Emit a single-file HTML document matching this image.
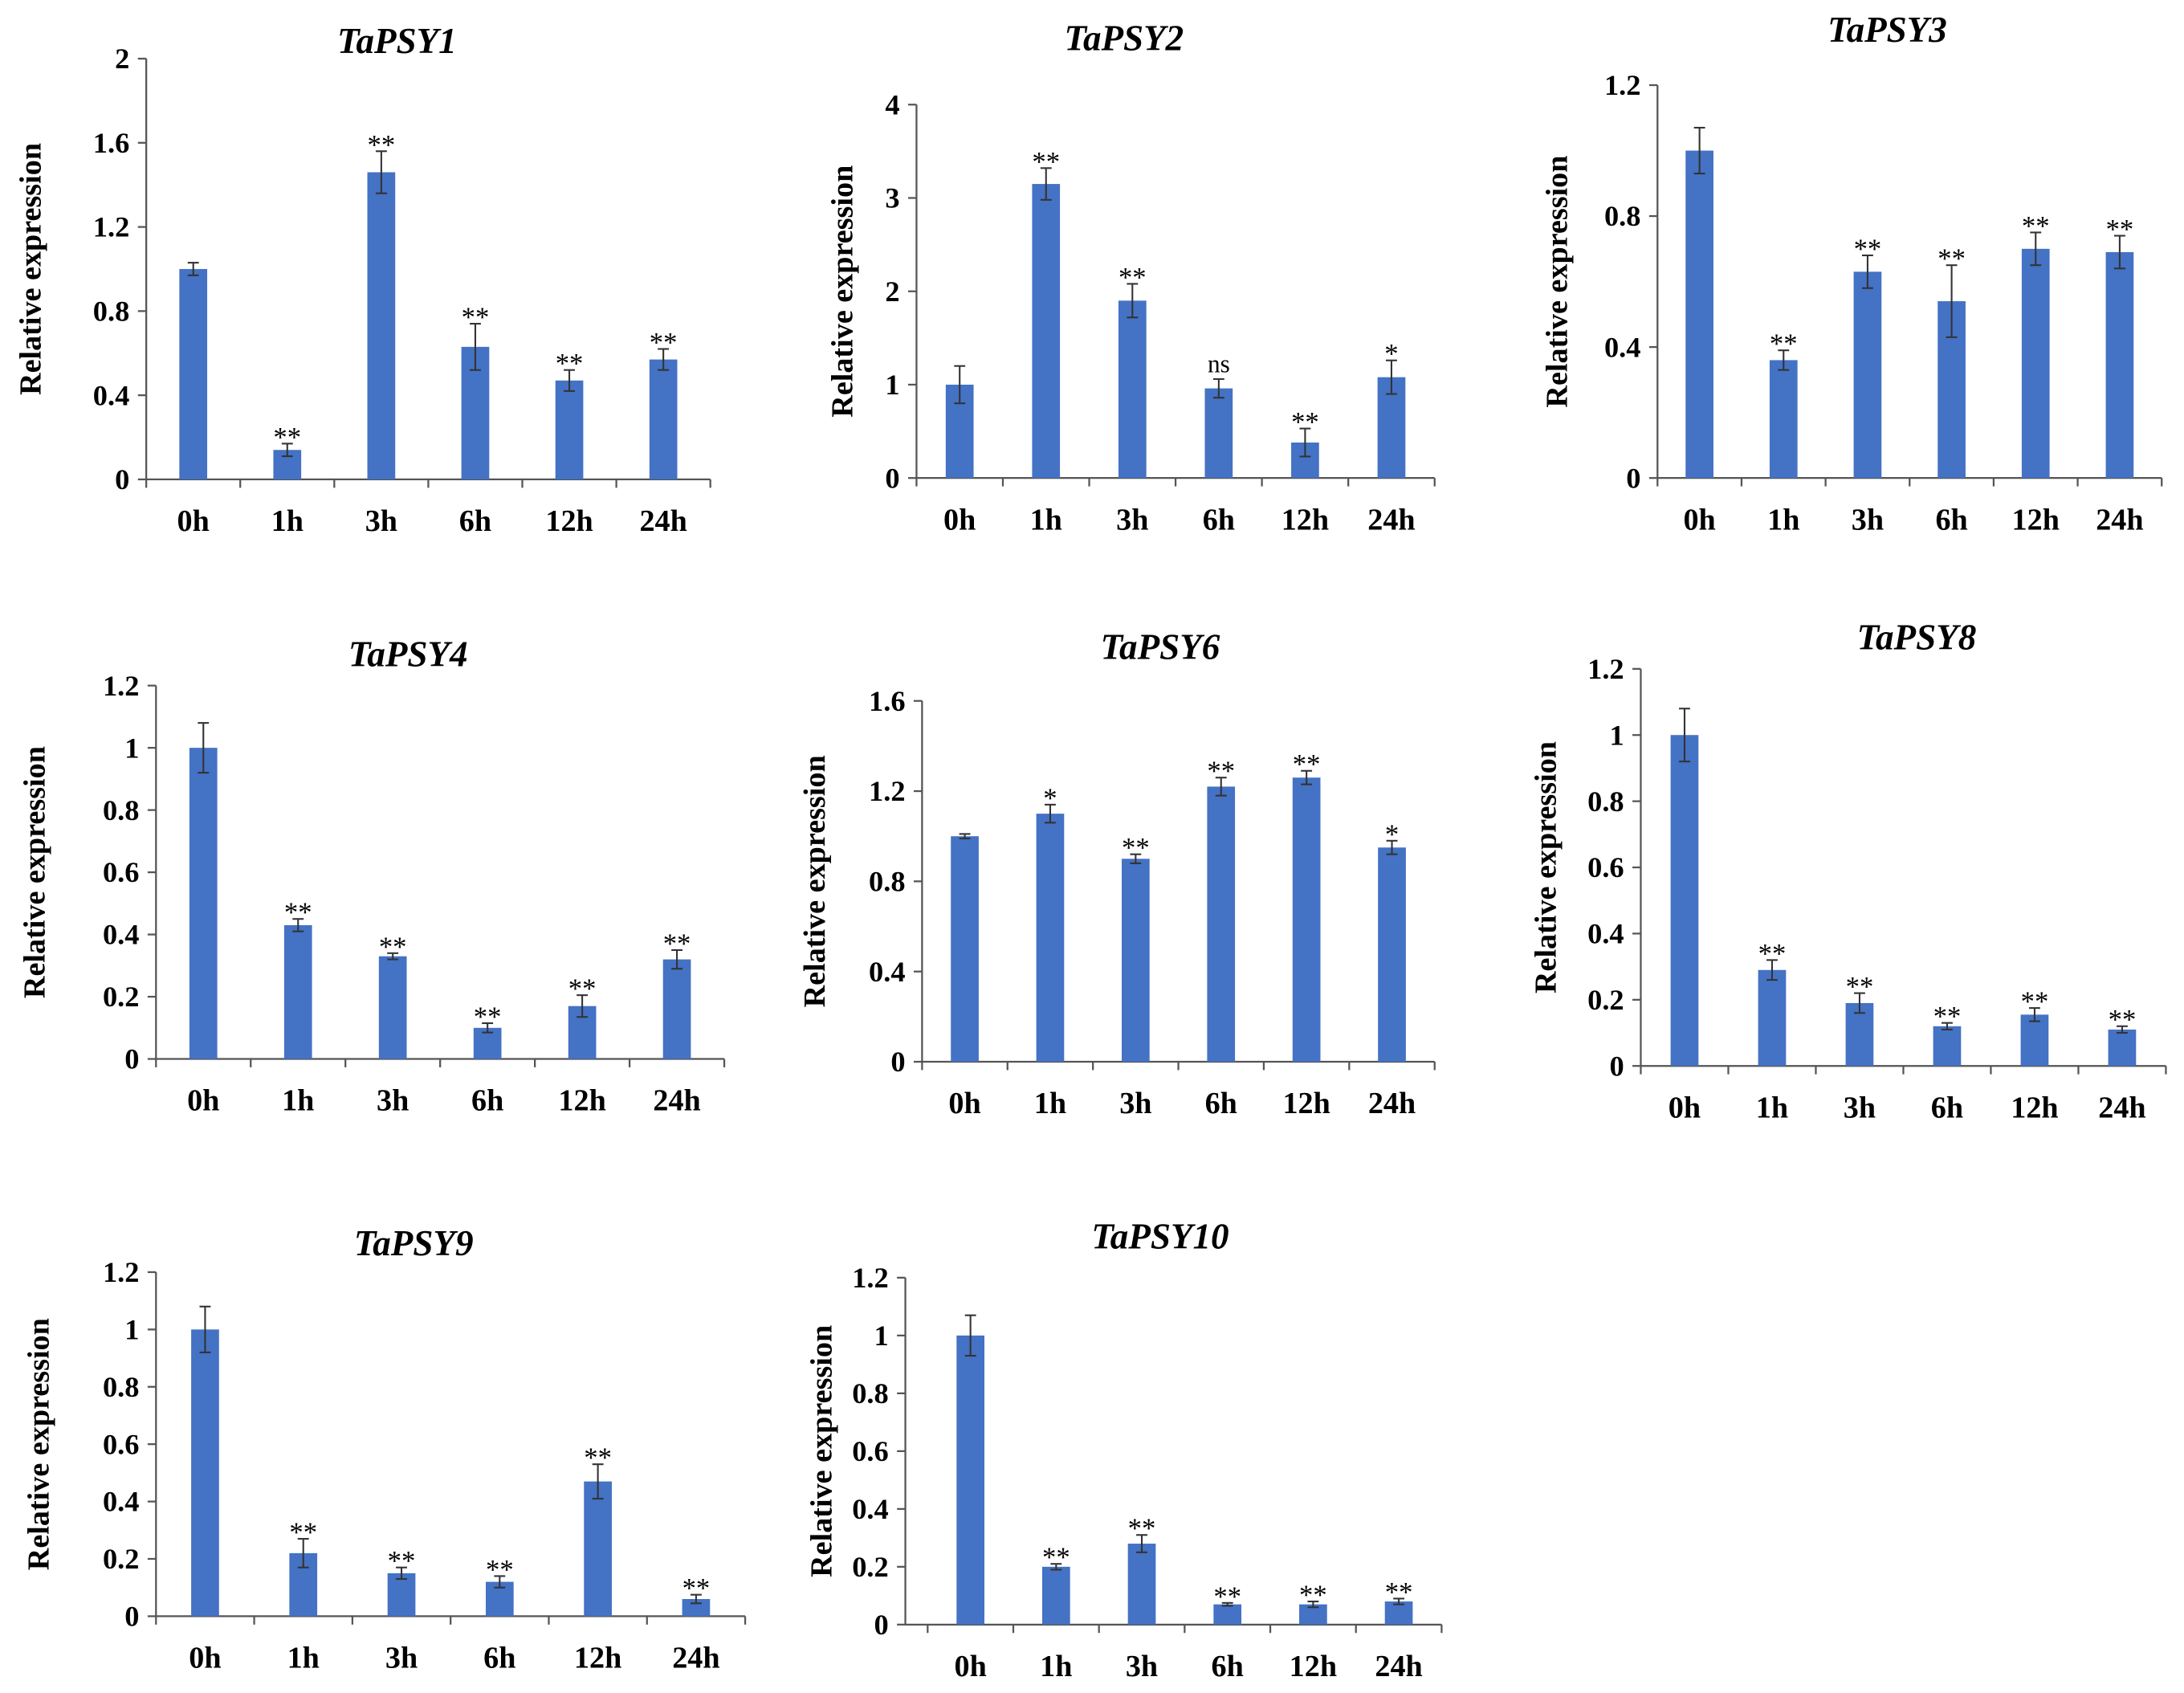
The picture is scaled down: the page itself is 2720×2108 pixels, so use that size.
<!DOCTYPE html>
<html><head><meta charset="utf-8">
<style>
html,body{margin:0;padding:0;background:#fff;}
svg{display:block;}
text{font-family:"Liberation Serif",serif;fill:#000;}
</style></head>
<body>
<svg id="chart" width="2720" height="2108" viewBox="0 0 1568 1215" xmlns="http://www.w3.org/2000/svg"></svg>
<script>
const categories = ["0h","1h","3h","6h","12h","24h"];
const titles = ["TaPSY1","TaPSY2","TaPSY3","TaPSY4","TaPSY6","TaPSY8","TaPSY9","TaPSY10"];
const values1 = [1,0.14,1.46,0.63,0.47,0.57];
const values2 = [1,3.15,1.9,0.96,0.38,1.08];
const values3 = [1,0.36,0.63,0.54,0.7,0.69];
const values4 = [1,0.43,0.33,0.1,0.17,0.32];
const values5 = [1,1.1,0.9,1.22,1.26,0.95];
const values6 = [1,0.29,0.19,0.12,0.155,0.11];
const values7 = [1,0.22,0.15,0.12,0.47,0.06];
const values8 = [1,0.2,0.28,0.07,0.07,0.08];
const errors1 = [0.03,0.03,0.1,0.11,0.05,0.05];
const errors2 = [0.2,0.17,0.18,0.1,0.15,0.18];
const errors3 = [0.07,0.03,0.05,0.11,0.05,0.05];
const errors4 = [0.08,0.02,0.01,0.015,0.035,0.03];
const errors5 = [0.01,0.04,0.02,0.04,0.03,0.03];
const errors6 = [0.08,0.03,0.03,0.01,0.02,0.01];
const errors7 = [0.08,0.05,0.02,0.02,0.06,0.015];
const errors8 = [0.07,0.01,0.03,0.005,0.01,0.01];
const sig1 = ["","**","**","**","**","**"];
const sig2 = ["","**","**","ns","**","*"];
const sig3 = ["","**","**","**","**","**"];
const sig4 = ["","**","**","**","**","**"];
const sig5 = ["","*","**","**","**","*"];
const sig6 = ["","**","**","**","**","**"];
const sig7 = ["","**","**","**","**","**"];
const sig8 = ["","**","**","**","**","**"];
const ticks1 = ["0","0.4","0.8","1.2","1.6","2"];
const ticks2 = ["0","1","2","3","4"];
const ticks3 = ["0","0.4","0.8","1.2"];
const ticks4 = ["0","0.2","0.4","0.6","0.8","1","1.2"];
const ticks5 = ["0","0.4","0.8","1.2","1.6"];
const ticks6 = ["0","0.2","0.4","0.6","0.8","1","1.2"];
const ticks7 = ["0","0.2","0.4","0.6","0.8","1","1.2"];
const ticks8 = ["0","0.2","0.4","0.6","0.8","1","1.2"];

const allValues=[values1,values2,values3,values4,values5,values6,values7,values8];
const allErrors=[errors1,errors2,errors3,errors4,errors5,errors6,errors7,errors8];
const allSig=[sig1,sig2,sig3,sig4,sig5,sig6,sig7,sig8];
const allTicks=[ticks1,ticks2,ticks3,ticks4,ticks5,ticks6,ticks7,ticks8];
// layout: axis x, top y, bottom y, right x, title x, title y, ylabel x, band start x
const layout=[
 [105,42,344,510,285,38,29,105],
 [658,75,343,1030,807,36,612,658],
 [1190,61,343,1552,1355,30,1125,1190],
 [112,492,760,520,293,478,32,112],
 [662,503,762,1030,833,473,592,662],
 [1178,480,765,1555,1376,466,1117,1178],
 [112,913,1160,535,297,901,35,112],
 [650,917,1166,1035,833,896,597,666]
];
const NS="http://www.w3.org/2000/svg";
const svg=document.getElementById('chart');
function mk(tag,attrs,parent){const e=document.createElementNS(NS,tag);for(const k in attrs)e.setAttribute(k,attrs[k]);(parent||svg).appendChild(e);return e;}
layout.forEach((L,p)=>{
 const [ax,top,bot,right,tx,ty,lx,bs]=L;
 const ticks=allTicks[p];const ymax=parseFloat(ticks[ticks.length-1]);
 const y=v=>bot-(v/ymax)*(bot-top);
 const band=(right-bs)/categories.length;
 const x=i=>bs+band*(i+0.5);
 const g=mk('g',{});
 
 
 const t=mk('text',{x:tx,y:ty,'text-anchor':'middle','font-size':26,'font-weight':'bold','font-style':'italic'},g);
 t.textContent=titles[p];
 
 
 const yl=mk('text',{transform:`translate(${lx},${(top+bot)/2}) rotate(-90)`,'text-anchor':'middle','font-size':22,'font-weight':'bold'},g);
 yl.textContent='Relative expression';
 
 
 const ya=mk('line',{x1:ax,y1:top,x2:ax,y2:bot,stroke:'#555','stroke-width':1.3},g);
 
 
 const xa=mk('line',{x1:ax,y1:bot,x2:right,y2:bot,stroke:'#555','stroke-width':1.3},g);
 
 
 ticks.forEach(tk=>{
  const v=parseFloat(tk);
  mk('line',{x1:ax-6,y1:y(v),x2:ax,y2:y(v),stroke:'#555','stroke-width':1.3},g);
  const tl=mk('text',{x:ax-12,y:y(v)+7,'text-anchor':'end','font-size':21,'font-weight':'bold'},g);
  tl.textContent=tk;
  
  
 });
 for(let i=0;i<=categories.length;i++){mk('line',{x1:bs+band*i,y1:bot,x2:bs+band*i,y2:bot+6,stroke:'#555','stroke-width':1.3},g);}
 categories.forEach((c,i)=>{
  const v=allValues[p][i],e=allErrors[p][i];
  const b=mk('rect',{x:x(i)-10,y:y(v),width:20,height:bot-y(v),fill:'#4472C4'},g);
  
  
  mk('line',{x1:x(i),y1:y(v+e),x2:x(i),y2:y(Math.max(0,v-e)),stroke:'#333','stroke-width':1.2},g);
  mk('line',{x1:x(i)-4,y1:y(v+e),x2:x(i)+4,y2:y(v+e),stroke:'#333','stroke-width':1.2},g);
  mk('line',{x1:x(i)-4,y1:y(Math.max(0,v-e)),x2:x(i)+4,y2:y(Math.max(0,v-e)),stroke:'#333','stroke-width':1.2},g);
  const s=allSig[p][i];
  if(s){const st=mk('text',{x:x(i),y:y(v+e)-(s==='ns'?5:-2),'text-anchor':'middle','font-size':s==='ns'?18:20},g);st.textContent=s;
   
   }
  const xl=mk('text',{x:x(i),y:bot+37,'text-anchor':'middle','font-size':22,'font-weight':'bold'},g);
  xl.textContent=c;
  
  
 });
});
</script>
</body></html>
